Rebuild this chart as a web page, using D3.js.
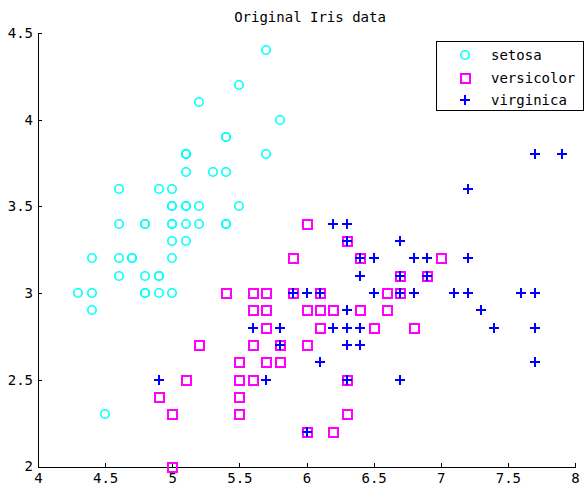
<!DOCTYPE html>
<html><head><meta charset="utf-8">
<script src="https://cdn.jsdelivr.net/npm/d3@7"></script>
<style>body{margin:0;background:#fff}</style>
</head><body>
<script>
const setosa = [[5.1,3.5],[4.9,3.0],[4.7,3.2],[4.6,3.1],[5.0,3.6],[5.4,3.9],[4.6,3.4],[5.0,3.4],[4.4,2.9],[4.9,3.1],[5.4,3.7],[4.8,3.4],[4.8,3.0],[4.3,3.0],[5.8,4.0],[5.7,4.4],[5.4,3.9],[5.1,3.5],[5.7,3.8],[5.1,3.8],[5.4,3.4],[5.1,3.7],[4.6,3.6],[5.1,3.3],[4.8,3.4],[5.0,3.0],[5.0,3.4],[5.2,3.5],[5.2,3.4],[4.7,3.2],[4.8,3.1],[5.4,3.4],[5.2,4.1],[5.5,4.2],[4.9,3.1],[5.0,3.2],[5.5,3.5],[4.9,3.6],[4.4,3.0],[5.1,3.4],[5.0,3.5],[4.5,2.3],[4.4,3.2],[5.0,3.5],[5.1,3.8],[4.8,3.0],[5.1,3.8],[4.6,3.2],[5.3,3.7],[5.0,3.3]];
const versicolor = [[7.0,3.2],[6.4,3.2],[6.9,3.1],[5.5,2.3],[6.5,2.8],[5.7,2.8],[6.3,3.3],[4.9,2.4],[6.6,2.9],[5.2,2.7],[5.0,2.0],[5.9,3.0],[6.0,2.2],[6.1,2.9],[5.6,2.9],[6.7,3.1],[5.6,3.0],[5.8,2.7],[6.2,2.2],[5.6,2.5],[5.9,3.2],[6.1,2.8],[6.3,2.5],[6.1,2.8],[6.4,2.9],[6.6,3.0],[6.8,2.8],[6.7,3.0],[6.0,2.9],[5.7,2.6],[5.5,2.4],[5.5,2.4],[5.8,2.7],[6.0,2.7],[5.4,3.0],[6.0,3.4],[6.7,3.1],[6.3,2.3],[5.6,3.0],[5.5,2.5],[5.5,2.6],[6.1,3.0],[5.8,2.6],[5.0,2.3],[5.6,2.7],[5.7,3.0],[5.7,2.9],[6.2,2.9],[5.1,2.5],[5.7,2.8]];
const virginica = [[6.3,3.3],[5.8,2.7],[7.1,3.0],[6.3,2.9],[6.5,3.0],[7.6,3.0],[4.9,2.5],[7.3,2.9],[6.7,2.5],[7.2,3.6],[6.5,3.2],[6.4,2.7],[6.8,3.0],[5.7,2.5],[5.8,2.8],[6.4,3.2],[6.5,3.0],[7.7,3.8],[7.7,2.6],[6.0,2.2],[6.9,3.2],[5.6,2.8],[7.7,2.8],[6.3,2.7],[6.7,3.3],[7.2,3.2],[6.2,2.8],[6.1,3.0],[6.4,2.8],[7.2,3.0],[7.4,2.8],[7.9,3.8],[6.4,2.8],[6.3,2.8],[6.1,2.6],[7.7,3.0],[6.3,3.4],[6.4,3.1],[6.0,3.0],[6.9,3.1],[6.7,3.1],[6.9,3.1],[5.8,2.7],[6.8,3.2],[6.7,3.3],[6.7,3.0],[6.3,2.5],[6.5,3.0],[6.2,3.4],[5.9,3.0]];
const species = ["setosa","versicolor","virginica"];
const xTicks = [4,4.5,5,5.5,6,6.5,7,7.5,8];
const yTicks = [2,2.5,3,3.5,4,4.5];
const title = "Original Iris data";

const W=587,H=492;
const font = "'DejaVu Sans Mono', 'Liberation Mono', monospace";
const svg = d3.select("body").append("svg").attr("width",W).attr("height",H);
const x = d3.scaleLinear().domain([4,8]).range([38,575]);
const y = d3.scaleLinear().domain([2,4.5]).range([466.5,33]);
const fmt = d => String(d);

const gx = svg.append("g").attr("transform",`translate(0,${y(2)})`)
  .call(d3.axisBottom(x).tickValues(xTicks).tickFormat(fmt).tickSizeInner(-4).tickSizeOuter(0).tickPadding(7));
const gy = svg.append("g").attr("transform",`translate(${x(4)},0)`)
  .call(d3.axisLeft(y).tickValues(yTicks).tickFormat(fmt).tickSizeInner(-4).tickSizeOuter(0).tickPadding(5));
[gx,gy].forEach(g=>{
  g.selectAll("path,line").attr("stroke","#000").attr("stroke-width",1).attr("shape-rendering","crispEdges");
  g.selectAll("text").attr("font-family",font).attr("font-size",14).attr("fill","#000");
});

svg.append("text").attr("x",310).attr("y",22).attr("text-anchor","middle")
  .attr("font-family",font).attr("font-size",14).text(title);

const colors = {setosa:"#00ffff",versicolor:"#ff00ff",virginica:"#0000ff"};
function marker(g,type,cx,cy){
  cx = Math.round(cx); cy = Math.round(cy);
  if(type==="setosa"){
    g.append("circle").attr("cx",cx).attr("cy",cy).attr("r",4.2).attr("fill","none")
      .attr("stroke",colors.setosa).attr("stroke-width",1.6);
  } else if(type==="versicolor"){
    g.append("rect").attr("x",cx-4.5).attr("y",cy-4.5).attr("width",9).attr("height",9).attr("fill","none")
      .attr("stroke",colors.versicolor).attr("stroke-width",2).attr("shape-rendering","crispEdges");
  } else {
    g.append("path").attr("d",`M${cx-5},${cy}H${cx+5}M${cx},${cy-5}V${cy+5}`)
      .attr("stroke",colors.virginica).attr("stroke-width",2).attr("fill","none").attr("shape-rendering","crispEdges");
  }
}
const sets = {setosa,versicolor,virginica};
species.forEach(s=>{
  const g = svg.append("g");
  sets[s].forEach(d=>marker(g,s,x(d[0]),y(d[1])));
});

const lg = svg.append("g");
lg.append("rect").attr("x",436).attr("y",41).attr("width",147).attr("height",69)
  .attr("fill","#fff").attr("stroke","#000").attr("stroke-width",1).attr("shape-rendering","crispEdges");
species.forEach((s,i)=>{
  const cy = 55 + i*22.5;
  marker(lg,s,465,cy);
  lg.append("text").attr("x",491).attr("y",Math.round(cy)+5).attr("font-family",font).attr("font-size",14).text(s);
});
</script>
</body></html>
